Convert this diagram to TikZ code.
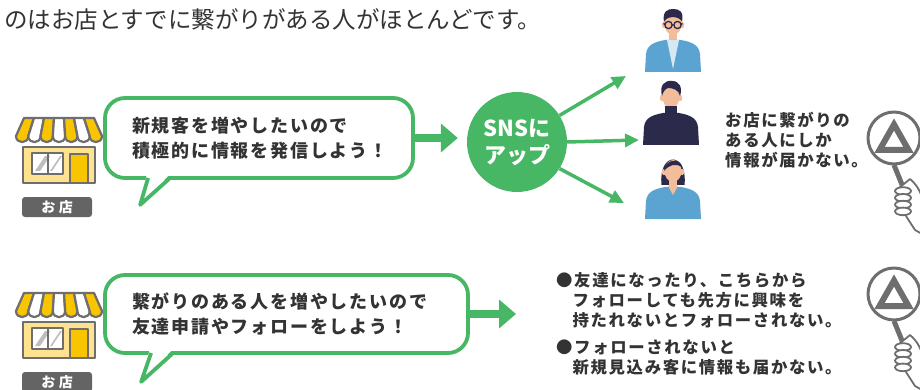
\documentclass[tikz,border=0pt]{standalone}
\usepackage{fontspec}
\newfontfamily\jp{Noto Sans CJK JP}
\newfontfamily\jpsp[LetterSpace=10]{Noto Sans CJK JP}
\newfontfamily\jptag[LetterSpace=25]{Noto Sans CJK JP}
\usetikzlibrary{arrows.meta,calc,positioning}
\definecolor{sgreen}{HTML}{47B765}
\definecolor{txtgray}{HTML}{333333}
\definecolor{iconline}{HTML}{6E6E6E}
\definecolor{awning}{HTML}{F9C400}
\definecolor{wall}{HTML}{FFE28F}
\definecolor{tagfill}{HTML}{646464}
\definecolor{shirt}{HTML}{5BA3D1}
\definecolor{navy}{HTML}{2B2A4B}
\definecolor{skin}{HTML}{F3BC9A}
\tikzset{
  shopline/.style={draw=iconline, line width=2.2pt, line join=round},
  shoptag/.style={fill=tagfill, rounded corners=3pt, text=white, inner sep=0pt,
    minimum width=70pt, minimum height=20pt, font=\jptag\bfseries\fontsize{14}{14}\selectfont},
  bubble/.style={draw=sgreen, line width=3.8pt, fill=white, rounded corners=20pt, align=left,
    inner xsep=27pt, inner ysep=0pt, text=txtgray, font=\jpsp\bfseries\fontsize{18}{25.5}\selectfont},
  tail/.style={draw=sgreen, line width=3.8pt, line join=round},
  bigarrow/.style={draw=sgreen, line width=8pt, -{Triangle[length=17pt,width=28pt]}},
  fanarrow/.style={draw=sgreen, line width=3.5pt, -{Triangle[length=14pt,width=13pt]}},
  note/.style={align=left, inner sep=0pt, text=txtgray, font=\jpsp\bfseries\fontsize{16.4}{20}\selectfont},
  shop/.pic={
    \path[shopline, fill=wall] (0,0) rectangle (72,36);
    \path[shopline, fill=white] (9,6) rectangle (40,27);
    \fill[iconline!45] (12,24) -- (22,9) -- (27,9) -- (17,24) -- cycle;
    \fill[iconline!45] (27,24) -- (37,9) -- (39,9) -- (29,24) -- cycle;
    \draw[iconline, line width=2pt] (24.5,6) -- (24.5,27);
    \path[shopline, fill=awning] (47,7) rectangle (65,36);
    \foreach \i in {0,...,6} {
      \pgfmathsetmacro{\ta}{1+10*\i}
      \pgfmathsetmacro{\tb}{11+10*\i}
      \pgfmathsetmacro{\ba}{-7+86*\i/7}
      \pgfmathsetmacro{\bb}{-7+86*(\i+1)/7}
      \ifodd\i\def\stripe{white}\else\def\stripe{awning}\fi
      \path[shopline, fill=\stripe] (\ta,-29) -- (\tb,-29) -- (\bb,-11)
        .. controls (\bb,-2.8) and (\ba,-2.8) .. (\ba,-11) -- cycle;
    }
  },
  person/.pic={
    \fill[skin] (-4,6) rectangle (4,18);
    \fill[#1] (-28,48) -- (-27,30) .. controls (-26,21) and (-19,18) .. (-8,16) -- (8,16)
      .. controls (19,18) and (26,21) .. (27,30) -- (28,48) -- cycle;
    \fill[skin] (-9,1) ellipse (2.2 and 3.2) (9,1) ellipse (2.2 and 3.2);
    \fill[skin] (0,0) ellipse (8.5 and 11);
  },
  judge/.pic={
    \draw[iconline, line width=5pt] (0,27) -- (11,54);
    \draw[iconline, line width=3pt, fill=white] (0,0) circle (26);
    \draw[iconline, line width=6pt, line join=miter] (0,-13.5) -- (14.5,12) -- (-14.5,12) -- cycle;
    \filldraw[fill=white, draw=iconline, line width=1.8pt, line join=round] (5,50) -- (16,41)
      .. controls (22,46) and (26,52) .. (28,60) -- (28,96) -- (21,92) -- (12,78) -- cycle;
    \foreach \k in {0,...,3}
      \filldraw[fill=white, draw=iconline, line width=1.8pt] (9,53+6.8*\k) ellipse (8 and 3.8);
  }
}
\begin{document}
\begin{tikzpicture}[x=1pt, y=-1pt, line join=round]
\useasboundingbox (0,0) rectangle (920,390);
\node[anchor=west, inner sep=0pt, text=txtgray, font=\jp\fontsize{23.5}{27}\selectfont] (lead) at (4,20)
  {のはお店とすでに繋がりがある人がほとんどです。};

% upper row
\pic (shopA) at (23,147) {shop};
\node[shoptag] (tagA) at (57,207) {お店};
\node[bubble, text width=254pt, minimum height=80pt] (msgA) at (259,138)
  {新規客を増やしたいので\\積極的に情報を発信しよう！};
\fill[white] ($(msgA.south west)+(44,-7)$) -- ($(msgA.south west)+(37,25)$) -- ($(msgA.south west)+(68,-7)$) -- cycle;
\draw[tail] ($(msgA.south west)+(45,-1.9)$) -- ($(msgA.south west)+(37,25)$) -- ($(msgA.south west)+(67,-1.9)$);
\node[circle, fill=sgreen, minimum size=100pt, inner sep=0pt, text=white, align=center,
  font=\jp\bfseries\fontsize{22}{27}\selectfont] (sns) at (517,142) {SNSに\\アップ};
\draw[bigarrow, shorten >=9pt] (msgA.east) -- (msgA.east -| sns.west);

\coordinate (toA) at (626,76);
\coordinate (toB) at (639,140);
\coordinate (toC) at (624,203);
\draw[fanarrow] (sns.32) -- (toA);
\draw[fanarrow] (sns.east) -- (toB);
\draw[fanarrow] (sns.-32) -- (toC);

\begin{scope}[shift={(673,24)}]
  \pic {person=shirt};
  \fill[shirt!25!white] (-6,16) -- (6,16) -- (0,45) -- cycle;
  \fill[navy] (-9,-2) .. controls (-11,-13) and (-5,-15) .. (0,-15) .. controls (6,-15) and (11,-13) .. (9,-2)
    .. controls (7,-8) and (-6,-9) .. (-9,-2) -- cycle;
  \draw[navy, line width=1.3pt] (-4.5,1) circle (3.6) (4.5,1) circle (3.6) (-0.9,1) -- (0.9,1)
    (-8.1,0.5) -- (-9.5,-0.5) (8.1,0.5) -- (9.5,-0.5);
\end{scope}
\begin{scope}[shift={(671,97)}]
  \pic {person=navy};
  \fill[navy] (-6,9) rectangle (6,18);
  \fill[navy] (-9,-1) .. controls (-12,-12) and (-6,-17) .. (1,-16) .. controls (8,-16) and (12,-10) .. (9,-1)
    .. controls (8,-7) and (2,-9) .. (-3,-9) .. controls (-6,-8) and (-8,-5) .. (-9,-1) -- cycle;
\end{scope}
\begin{scope}[shift={(673,171)}]
  \fill[navy] (-11.5,14) .. controls (-15,-20) and (15,-20) .. (11.5,14) -- cycle;
  \pic {person=shirt};
  \fill[skin] (-5,15) -- (5,15) -- (0,24) -- cycle;
  \fill[navy] (-9,0) .. controls (-9,-12) and (8,-14) .. (9.5,-3) .. controls (3,-9) and (-4,-6) .. (-9,0) -- cycle;
\end{scope}

\node[note, anchor=west] (reach) at (725,140) {お店に繋がりの\\ある人にしか\\情報が届かない。};
\pic (judgeA) at (894,138) {judge};

% lower row
\pic (shopB) at (23,322) {shop};
\node[shoptag] (tagB) at (57,382) {お店};
\node[bubble, text width=309pt, minimum height=78pt] (msgB) at (286.5,314)
  {繋がりのある人を増やしたいので\\友達申請やフォローをしよう！};
\fill[white] ($(msgB.south west)+(47,-7)$) -- ($(msgB.south west)+(38,27)$) -- ($(msgB.south west)+(71,-7)$) -- cycle;
\draw[tail] ($(msgB.south west)+(48,-1.9)$) -- ($(msgB.south west)+(38,27)$) -- ($(msgB.south west)+(70,-1.9)$);
\coordinate (endB) at (516,315);
\draw[bigarrow] (msgB.east) -- (msgB.east -| endB);

\node[note, anchor=west] (noteA) at (556,300)
  {●友達になったり、こちらから\\\phantom{●}フォローしても先方に興味を\\\phantom{●}持たれないとフォローされない。};
\node[note, anchor=west] (noteB) at (556,358)
  {●フォローされないと\\\phantom{●}新規見込み客に情報も届かない。};
\pic (judgeB) at (894,294) {judge};
\end{tikzpicture}
\end{document}
